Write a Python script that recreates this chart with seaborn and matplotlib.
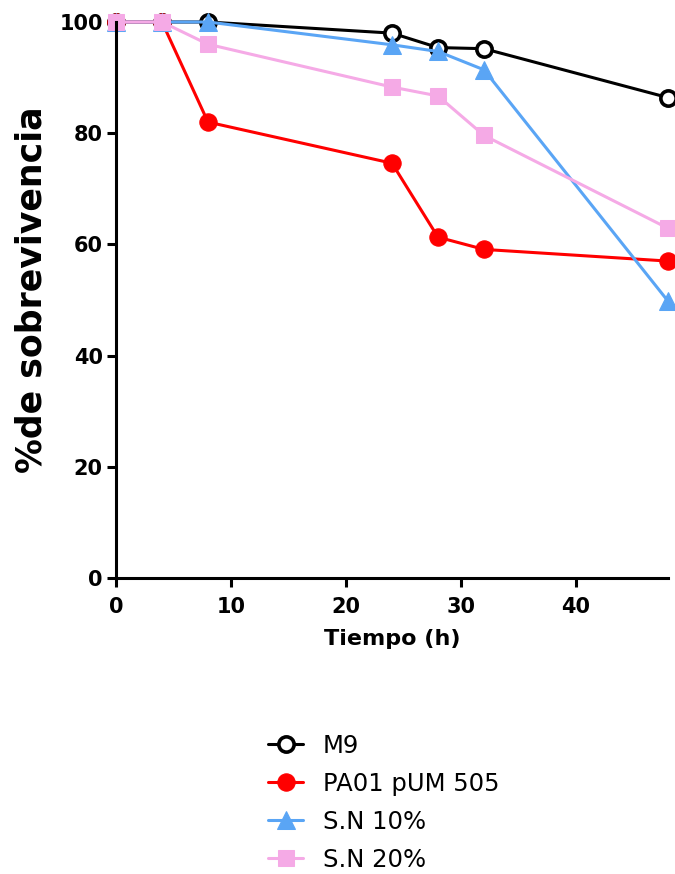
import matplotlib
matplotlib.use("Agg")
import matplotlib.pyplot as plt
import seaborn as sns
import pandas as pd

time_h = [0, 4, 8, 24, 28, 32, 48]
m9 = [100, 100, 100, 98.0, 95.4, 95.2, 86.4]
pa01 = [100, 100, 82.0, 74.6, 61.3, 59.1, 57.0]
sn10 = [100, 100, 100, 95.9, 94.7, 91.4, 49.8]
sn20 = [100, 100, 96.0, 88.3, 86.7, 79.6, 62.9]
series_names = ["M9", "PA01 pUM 505", "S.N 10%", "S.N 20%"]

sns.set_style("ticks")
plt.rcParams['font.family'] = ['DejaVu Sans']
plt.rcParams['text.color'] = 'black'
plt.rcParams['axes.labelcolor'] = 'black'
plt.rcParams['xtick.color'] = 'black'
plt.rcParams['ytick.color'] = 'black'

fig = plt.figure(figsize=(6.75, 8.74), dpi=100)
ax = fig.add_axes([116/675, 1-578/874, (668-116)/675, (578-22)/874])

styles = [
    dict(color="black", marker="o", markerfacecolor="white", markeredgecolor="black", markeredgewidth=2.6, markersize=11),
    dict(color="#ff0000", marker="o", markerfacecolor="#ff0000", markeredgecolor="#ff0000", markersize=12.5),
    dict(color="#5aa5f5", marker="^", markerfacecolor="#5aa5f5", markeredgecolor="#5aa5f5", markersize=12.5),
    dict(color="#f5aae6", marker="s", markerfacecolor="#f5aae6", markeredgecolor="#f5aae6", markersize=11),
]

for name, vals, st in zip(series_names, [m9, pa01, sn10, sn20], styles):
    df = pd.DataFrame({"t": time_h, "v": vals})
    sns.lineplot(data=df, x="t", y="v", ax=ax, label=name, linewidth=2.2, clip_on=False, **st)

ax.set_xlim(0, 48)
ax.set_ylim(0, 100)
ax.set_xticks([0, 10, 20, 30, 40])
ax.set_yticks([0, 20, 40, 60, 80, 100])
sns.despine(ax=ax)
for s in ["left", "bottom"]:
    ax.spines[s].set_linewidth(2.2)
    ax.spines[s].set_color("black")
ax.tick_params(axis="both", direction="out", length=6.5, width=2.2, labelsize=15, labelcolor="black", color="black")
ax.tick_params(axis="x", pad=7)
ax.tick_params(axis="y", pad=3)
for lbl in ax.get_xticklabels() + ax.get_yticklabels():
    lbl.set_fontweight("bold")
ax.set_xlabel("Tiempo (h)", fontsize=16, fontweight="bold", labelpad=9, color="black")
ax.set_ylabel("%de sobrevivencia", fontsize=25, fontweight="bold", color="black")
ax.yaxis.set_label_coords(-0.122, 0.518)

handles, labels = ax.get_legend_handles_labels()
ax.get_legend().remove()
fig.legend(handles, labels, loc="upper left", bbox_to_anchor=(268/675, 1-734/874),
           frameon=False, fontsize=17.5, handlelength=1.45, handletextpad=0.8,
           labelspacing=0.57, borderpad=0, borderaxespad=0, labelcolor="black")

fig.savefig("out.png", dpi=100)
